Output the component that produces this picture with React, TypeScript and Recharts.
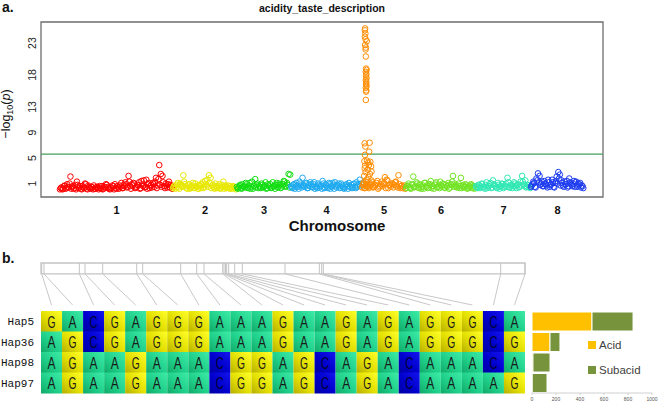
import React from 'react';
import {
  ScatterChart,
  Scatter,
  XAxis,
  YAxis,
  ReferenceLine,
  ReferenceArea,
  BarChart,
  Bar,
  LineChart,
} from 'recharts';

// ---- panel a: GWAS manhattan ----
const chromosomes = ['1', '2', '3', '4', '5', '6', '7', '8'];
const chromLengthsMb = [47.7, 27.0, 22.8, 30.0, 18.6, 29.5, 23.2, 22.4];
const chromColors = ['#FF0000', '#E8E800', '#12DD12', '#1EAAF0', '#FF8C00', '#72E424', '#30E8B4', '#1E3CF0'];

// two SNP panels per chromosome (second one offset by half a step)
const chr1Logp = [0.3, 0.1, 0.6, 0.2, 0.9, 0.4, 2.1, 0.5, 0.2, 0.8, 1.3, 0.3, 0.6, 0.1, 0.4, 1.0, 0.2, 0.7, 0.3, 0.5, 0.1, 0.2, 0.4, 0.3, 0.6, 0.2, 0.1, 0.5, 0.9, 0.3, 0.2, 0.4, 0.7, 0.1, 0.3, 0.6, 0.2, 0.5, 0.3, 0.8, 1.2, 0.4, 2.2, 0.6, 0.9, 1.1, 0.3, 0.5, 0.7, 0.2, 1.4, 0.6, 0.4, 1.6, 0.9, 0.3, 0.8, 1.1, 0.5, 1.9, 0.7, 3.9, 2.5, 2.2, 0.6, 1.0, 0.4, 1.3, 0.8, 0.2];
const chr2Logp = [0.5, 0.2, 0.8, 0.4, 1.0, 0.6, 2.3, 0.9, 0.3, 0.7, 0.2, 0.5, 1.1, 0.4, 0.6, 0.2, 0.8, 0.3, 1.2, 0.5, 0.9, 1.6, 2.3, 1.9, 0.7, 0.4, 1.0, 0.3, 0.6, 0.2, 0.8, 1.3, 0.5, 0.3, 0.7, 0.2, 0.4, 0.6, 0.3, 0.1];
const chr3Logp = [0.2, 0.6, 0.3, 0.9, 0.5, 1.1, 0.4, 0.7, 0.2, 1.3, 0.6, 1.7, 0.8, 0.3, 0.5, 1.0, 0.4, 0.7, 0.2, 0.9, 0.5, 0.3, 1.2, 0.6, 0.8, 0.4, 1.0, 0.3, 0.7, 1.4, 0.5, 1.1, 2.5, 2.4];
const chr4Logp = [0.4, 0.8, 0.2, 1.1, 0.5, 1.3, 0.7, 1.9, 0.6, 1.0, 0.3, 0.8, 1.2, 0.5, 0.9, 0.2, 0.6, 1.0, 0.4, 0.7, 1.4, 0.3, 0.9, 0.5, 1.1, 0.2, 0.6, 0.8, 1.2, 0.4, 0.7, 0.3, 1.0, 0.5, 0.2, 0.8, 0.6, 1.1, 0.4, 0.3, 0.9, 0.5, 1.2, 0.7, 1.6, 1.0];
const chr5Logp = [0.8, 0.3, 1.2, 0.5, 0.9, 1.5, 0.4, 0.7, 1.1, 0.2, 0.6, 1.3, 0.9, 2.0, 1.6, 0.3, 0.8, 1.0, 0.4, 1.2, 0.6, 2.3, 0.3, 0.7, 0.5, 0.2];
const chr6Logp = [0.6, 1.0, 0.3, 0.8, 2.1, 0.5, 1.2, 0.4, 0.9, 0.2, 0.7, 1.1, 0.5, 0.3, 0.8, 1.4, 0.6, 0.2, 1.0, 0.4, 0.7, 1.3, 0.5, 0.9, 0.3, 0.6, 1.1, 0.4, 0.8, 2.2, 1.0, 0.5, 0.7, 0.3, 1.9, 0.6, 0.4, 0.9, 0.2, 0.5, 0.8, 0.3, 0.6, 0.4];
const chr7Logp = [0.4, 0.8, 0.3, 1.0, 0.5, 0.2, 1.2, 0.6, 0.9, 0.3, 1.5, 0.7, 0.4, 1.1, 0.2, 0.6, 0.9, 0.5, 1.0, 1.9, 0.4, 0.7, 0.3, 1.2, 0.6, 0.8, 0.4, 1.3, 2.2, 0.9, 1.5, 0.5, 0.7, 0.3];
const chr8Logp = [0.7, 1.3, 0.5, 1.8, 2.6, 2.2, 1.0, 0.6, 1.4, 0.9, 0.4, 1.2, 0.8, 1.6, 0.5, 1.1, 2.1, 2.8, 2.4, 1.5, 0.7, 1.3, 0.9, 0.4, 1.8, 1.0, 0.6, 1.4, 1.2, 0.5, 0.9, 1.1, 0.7, 0.3];

const chr1LogpB = [0.1, 0.4, 0.2, 0.7, 0.3, 0.5, 1.0, 0.2, 0.6, 0.3, 0.1, 0.8, 0.4, 0.2, 0.6, 0.3, 0.9, 0.1, 0.5, 0.2, 0.4, 0.7, 0.2, 0.5, 0.1, 0.3, 0.6, 0.2, 0.4, 0.8, 0.5, 0.1, 0.3, 0.6, 0.9, 0.2, 0.4, 0.7, 1.1, 0.3, 0.6, 0.9, 0.5, 1.3, 0.2, 0.7, 1.0, 0.4, 0.8, 1.2, 0.3, 0.9, 1.5, 0.5, 0.2, 1.1, 0.6, 0.4, 0.9, 1.3, 0.3, 1.7, 0.8, 0.5, 1.2, 0.3, 0.7, 0.9, 0.4, 0.6];
const chr2LogpB = [0.3, 0.7, 0.4, 1.1, 0.2, 0.8, 0.5, 1.3, 0.6, 0.2, 0.9, 0.4, 0.7, 0.3, 1.0, 0.5, 0.2, 0.6, 0.9, 0.3, 1.4, 0.7, 0.5, 1.1, 0.3, 0.8, 0.2, 0.6, 0.4, 0.9, 0.3, 0.5, 0.2, 0.7, 0.4, 0.3, 0.6, 0.2, 0.5, 0.4];
const chr3LogpB = [0.5, 0.3, 0.8, 0.2, 0.6, 0.4, 0.9, 0.3, 1.1, 0.5, 0.2, 0.7, 0.4, 1.0, 0.6, 0.3, 0.8, 0.5, 1.2, 0.3, 0.7, 0.9, 0.4, 0.6, 0.2, 1.1, 0.5, 0.8, 0.4, 0.9, 1.3, 0.6, 0.8, 0.4];
const chr4LogpB = [0.6, 0.3, 0.9, 0.5, 0.7, 0.2, 1.0, 0.4, 0.8, 0.5, 1.1, 0.3, 0.6, 0.9, 0.4, 1.2, 0.5, 0.3, 0.8, 0.6, 0.2, 1.0, 0.4, 0.7, 0.3, 0.9, 0.5, 1.1, 0.2, 0.6, 0.8, 1.0, 0.4, 0.7, 0.3, 0.5, 0.9, 0.2, 0.6, 0.8, 0.4, 1.0, 0.3, 0.5, 0.9, 0.6];
const chr5LogpB = [0.4, 1.0, 0.6, 0.9, 0.3, 0.7, 1.2, 0.5, 0.8, 1.4, 0.4, 0.9, 0.6, 1.1, 0.3, 1.5, 0.7, 0.5, 1.0, 0.8, 1.3, 0.4, 0.9, 0.6, 0.3, 0.7];
const chr6LogpB = [0.3, 0.7, 0.5, 0.2, 0.9, 0.4, 0.6, 1.0, 0.3, 0.8, 0.5, 0.2, 1.1, 0.7, 0.4, 0.9, 0.3, 0.6, 0.8, 1.2, 0.5, 0.3, 0.7, 1.0, 0.4, 0.8, 0.6, 0.2, 0.9, 1.3, 0.5, 0.7, 0.4, 1.0, 0.6, 0.3, 0.8, 0.5, 0.7, 0.3, 0.6, 0.9, 0.4, 0.2];
const chr7LogpB = [0.6, 0.3, 0.7, 0.5, 0.9, 0.4, 0.8, 0.3, 0.6, 1.1, 0.4, 0.9, 0.6, 0.3, 0.8, 0.5, 1.0, 0.3, 0.7, 0.5, 1.2, 0.4, 0.8, 0.6, 1.0, 0.3, 0.9, 0.5, 0.7, 1.3, 0.6, 0.4, 0.8, 0.5];
const chr8LogpB = [0.5, 0.9, 1.1, 0.4, 1.5, 1.2, 0.8, 1.3, 0.6, 1.0, 0.7, 1.6, 0.5, 0.9, 1.2, 0.4, 1.4, 1.0, 1.8, 0.7, 1.1, 0.5, 0.9, 1.4, 0.6, 1.2, 0.8, 1.0, 0.5, 1.3, 0.7, 0.9, 0.4, 0.6];

const panelA = [chr1Logp, chr2Logp, chr3Logp, chr4Logp, chr5Logp, chr6Logp, chr7Logp, chr8Logp];
const panelB = [chr1LogpB, chr2LogpB, chr3LogpB, chr4LogpB, chr5LogpB, chr6LogpB, chr7LogpB, chr8LogpB];

// associated SNPs at the start of chromosome 5
const chr5PeakMb = [1.3, 1.2, 1.4, 1.2, 1.5, 2.0, 1.3, 1.6, 1.5, 1.6, 1.7, 1.9, 1.6, 1.8, 1.7, 1.9, 1.6, 1.8, 1.7, 1.9, 1.6, 1.8, 1.7, 1.6,
  1.1, 3.2, 1.4, 3.0, 1.2, 1.0, 2.1, 3.5, 2.6, 1.3, 2.9, 3.8, 1.1, 2.4, 4.0, 1.5, 3.3, 0.9, 2.7, 1.9, 0.7, 3.6, 2.2, 1.0, 4.4];
const chr5PeakLogp = [25.3, 25.0, 24.5, 24.0, 23.6, 23.3, 22.7, 22.3, 22.0, 20.9, 19.0, 18.8, 18.5, 18.2, 17.9, 17.5, 17.2, 16.9, 16.6, 16.3, 16.0, 15.6, 15.4, 14.1,
  7.3, 7.4, 6.8, 6.0, 5.5, 4.5, 4.6, 4.4, 4.3, 3.8, 3.9, 3.7, 3.4, 3.2, 2.9, 2.8, 2.5, 2.2, 2.0, 1.6, 1.2, 1.0, 0.6, 0.3, 0.5];

const yTicks = [1, 5, 9, 13, 18, 23];
const threshold = 5.6;

const chromStarts = chromLengthsMb.map((_, i) => chromLengthsMb.slice(0, i).reduce((a, b) => a + b, 0));
const genomeMb = chromLengthsMb.reduce((a, b) => a + b, 0);
const chromCenters = chromStarts.map((s, i) => s + chromLengthsMb[i] / 2);
const xDomain = [-8, genomeMb + 8];
const yDomain = [-1.1, 26.3];

const chromPoints = panelA.map((vals, c) => {
  const len = chromLengthsMb[c];
  const pts = vals.map((v, i) => ({ x: chromStarts[c] + ((i + 0.5) * len) / vals.length, y: v }));
  panelB[c].forEach((v, i) => pts.push({ x: chromStarts[c] + (i * len) / panelB[c].length, y: v }));
  if (c === 4) {
    chr5PeakMb.forEach((mb, i) => pts.push({ x: chromStarts[c] + mb, y: chr5PeakLogp[i] }));
  }
  return pts;
});

// ---- panel b: haplotypes ----
const hapNames = ['Hap5', 'Hap36', 'Hap98', 'Hap97'];
const hapSeqs = [
  'GACGAGGGAAAGAAGAGAGGGCA',
  'AGCGAGGGAAAGAAGAGAGGGCG',
  'AGAAGAAACGGAGCAGACAAACA',
  'AGAAGAAACGGAGCAGACAAAAG',
];
const regionKb = 48.4;
const snpKb = [0.07, 0.3, 3.83, 4.4, 6.17, 9.57, 10.17, 13.97, 15.57, 16.3, 18.17, 18.3, 18.45, 18.57, 18.77, 19.37, 20.13, 24.4, 27.83, 28.07, 28.23, 45.97, 48.4];
const acidCounts = [500, 150, 8, 2];
const subacidCounts = [342, 83, 142, 123];
const countTicks = [0, 200, 400, 600, 800, 1000];
const acidColor = '#FFC000';
const subacidColor = '#77933C';

const nCols = hapSeqs[0].length;
const colIdx = Array.from({ length: nCols }, (_, i) => i);
const gridData = hapNames.map((hap, r) => {
  const row: any = { hap };
  colIdx.forEach((i) => {
    row[`c${i}`] = 1;
    row[`n${i}`] = hapSeqs[r][i];
  });
  return row;
});
const countData = hapNames.map((hap, i) => ({ hap, Acid: acidCounts[i], Subacid: subacidCounts[i] }));

const ring = (color: string) => (p: any) => (
  <circle cx={p.cx} cy={p.cy} r={2.8} fill="none" stroke={color} strokeWidth={1} />
);

const RotTick = ({ y, payload }: any) => (
  <text x={36} y={y} transform={`rotate(-90, 36, ${y})`} textAnchor="middle" fontSize={10.5} fill="#222" fontFamily="Liberation Sans, Arial">
    {payload.value}
  </text>
);

const ChromTick = ({ x, y, payload }: any) => (
  <text x={x} y={y + 17} textAnchor="middle" fontSize={11} fontWeight="bold" fill="#111" fontFamily="Liberation Sans, Arial">
    {chromosomes[chromCenters.indexOf(payload.value)]}
  </text>
);

const HapTick = ({ x, y, payload }: any) => (
  <text x={x} y={y + 4} textAnchor="end" fontSize={11} fill="#111" fontFamily="Liberation Mono, monospace">
    {payload.value}
  </text>
);

const cellShape = (col: number) => (p: any) => {
  const base = p.payload[`n${col}`];
  return (
    <g>
      <rect x={p.x} y={p.y} width={p.width} height={p.height} fill={`url(#nt${base})`} />
      <text
        x={p.x + p.width / 2}
        y={p.y + p.height / 2 + 6}
        textAnchor="middle"
        fontSize={17}
        textLength={8}
        lengthAdjust="spacingAndGlyphs"
        fill={base === 'C' ? '#000030' : '#1A1A1A'}
        fontFamily="Liberation Sans, Arial"
      >
        {base}
      </text>
    </g>
  );
};

const ntGradients: [string, string, string, string][] = [
  ['A', '#10A867', '#20D08A', '#3DEBA6'],
  ['G', '#B5AE00', '#E2DE00', '#FFFF2A'],
  ['C', '#0000A0', '#0000CC', '#1414F0'],
];

const textFont = 'Liberation Sans, Arial, sans-serif';

export default function App() {
  return (
    <div style={{ position: 'absolute', left: 0, top: 0, width: 660, height: 405, background: '#fff', overflow: 'hidden' }}>
      {/* a. manhattan */}
      <div style={{ position: 'absolute', left: 0, top: 0 }}>
        <ScatterChart width={660} height={240} margin={{ top: 22, right: 57, bottom: 13, left: 16 }}>
          <XAxis
            type="number"
            dataKey="x"
            domain={xDomain}
            allowDataOverflow
            ticks={chromCenters}
            tick={<ChromTick />}
            tickLine={false}
            axisLine={false}
            tickSize={0}
            tickMargin={0}
            height={30}
            interval={0}
          />
          <YAxis
            type="number"
            dataKey="y"
            domain={yDomain}
            allowDataOverflow
            ticks={yTicks}
            tick={<RotTick />}
            tickLine={false}
            axisLine={false}
            width={25}
            interval={0}
          />
          <ReferenceArea x1={xDomain[0]} x2={xDomain[1]} y1={yDomain[0]} y2={yDomain[1]} fill="none" stroke="#6E6E6E" strokeWidth={1.3} />
          <ReferenceLine y={threshold} stroke="#45A05A" strokeWidth={1.2} />
          {chromPoints.map((pts, c) => (
            <Scatter key={c} data={pts} shape={ring(chromColors[c])} isAnimationActive={false} />
          ))}
        </ScatterChart>
      </div>

      {/* b. SNP position map */}
      <div style={{ position: 'absolute', left: 0, top: 258 }}>
        <LineChart width={530} height={52} margin={{ top: 5, right: 5, bottom: 5, left: 41 }} data={[{ x: 0, y: 0 }]}>
          <XAxis type="number" dataKey="x" domain={[0, regionKb]} allowDataOverflow hide />
          <YAxis type="number" domain={[0, 1.35]} allowDataOverflow hide />
          <ReferenceArea x1={0} x2={regionKb} y1={1} y2={1.35} fill="none" stroke="#C4C4C4" strokeWidth={1.3} />
          {snpKb.map((kb, i) => (
            <ReferenceLine key={`v${i}`} segment={[{ x: kb, y: 1 }, { x: kb, y: 1.35 }]} stroke="#C4C4C4" strokeWidth={1} />
          ))}
          {snpKb.map((kb, i) => (
            <ReferenceLine
              key={`d${i}`}
              segment={[{ x: kb, y: 1 }, { x: ((i + 0.5) * regionKb) / nCols, y: 0 }]}
              stroke="#C8C8C8"
              strokeWidth={1}
            />
          ))}
        </LineChart>
      </div>

      {/* b. haplotype grid */}
      <div style={{ position: 'absolute', left: 0, top: 305 }}>
        <BarChart width={530} height={94} layout="vertical" data={gridData} barCategoryGap={0} margin={{ top: 6, right: 5, bottom: 6, left: 0 }}>
          <defs>
            {ntGradients.map(([nt, dark, mid, light]) => (
              <linearGradient key={nt} id={`nt${nt}`} x1="0" y1="1" x2="1" y2="0">
                <stop offset="0%" stopColor={dark} />
                <stop offset="45%" stopColor={mid} />
                <stop offset="100%" stopColor={light} />
              </linearGradient>
            ))}
          </defs>
          <XAxis type="number" domain={[0, nCols]} allowDataOverflow hide />
          <YAxis type="category" dataKey="hap" width={41} tickLine={false} axisLine={false} tick={<HapTick />} tickMargin={1} interval={0} />
          {colIdx.map((i) => (
            <Bar key={i} dataKey={`c${i}`} stackId="g" shape={cellShape(i)} isAnimationActive={false} />
          ))}
        </BarChart>
      </div>

      {/* b. acid / subacid counts */}
      <div style={{ position: 'absolute', left: 500, top: 305 }}>
        <BarChart width={160} height={100} layout="vertical" data={countData} barCategoryGap={1} margin={{ top: 6, right: 8, bottom: 0, left: 32 }}>
          <XAxis
            type="number"
            domain={[0, 1000]}
            ticks={countTicks}
            interval={0}
            tick={{ fontSize: 5, fill: '#555', fontFamily: textFont }}
            axisLine={{ stroke: '#D0D0D0' }}
            tickLine={{ stroke: '#D0D0D0' }}
            tickSize={2}
            tickMargin={2}
            height={12}
          />
          <YAxis type="category" dataKey="hap" hide />
          <Bar dataKey="Acid" stackId="h" fill={acidColor} stroke="#fff" strokeWidth={1} isAnimationActive={false} />
          <Bar dataKey="Subacid" stackId="h" fill={subacidColor} stroke="#fff" strokeWidth={1} isAnimationActive={false} />
        </BarChart>
      </div>

      {/* legend of the count chart */}
      <div style={{ position: 'absolute', left: 588, top: 337, fontFamily: textFont, fontSize: 11.5, color: '#404040' }}>
        {[['Acid', acidColor], ['Subacid', subacidColor]].map(([name, c], i) => (
          <div key={name} style={{ display: 'flex', alignItems: 'center', height: 16, marginBottom: i === 0 ? 9 : 0 }}>
            <span style={{ display: 'inline-block', width: 8, height: 8, background: c, marginRight: 3 }} />
            <span>{name}</span>
          </div>
        ))}
      </div>

      {/* titles and axis labels */}
      <svg width={660} height={405} style={{ position: 'absolute', left: 0, top: 0, pointerEvents: 'none' }} fontFamily={textFont}>
        <text x={2} y={12} fontSize={14} fontWeight="bold" fill="#111">a.</text>
        <text x={322} y={11.5} fontSize={10.5} fontWeight="bold" textAnchor="middle" fill="#111">acidity_taste_description</text>
        <text x={337} y={231} fontSize={15} fontWeight="bold" textAnchor="middle" fill="#111">Chromosome</text>
        <text x={10} y={114} transform="rotate(-90, 10, 114)" textAnchor="middle" fontSize={12.5} fill="#111">
          −log<tspan fontSize={9} dy={3}>10</tspan>
          <tspan dy={-3}>(</tspan>
          <tspan fontStyle="italic">p</tspan>)
        </text>
        <text x={2} y={263} fontSize={14} fontWeight="bold" fill="#111">b.</text>
      </svg>
    </div>
  );
}
